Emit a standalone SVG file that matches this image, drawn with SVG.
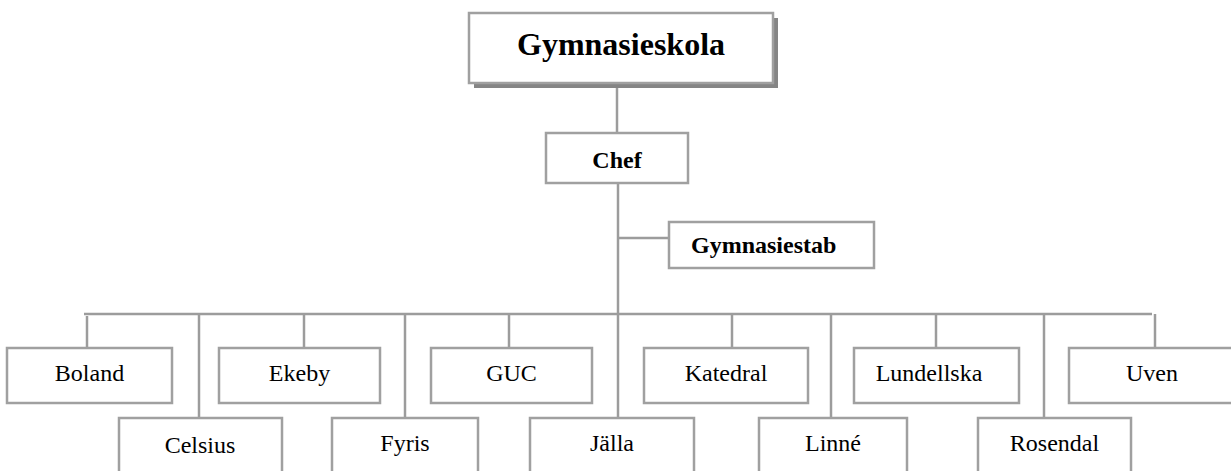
<svg xmlns="http://www.w3.org/2000/svg" width="1231" height="471" viewBox="0 0 1231 471">
<style>
.box{fill:#fff;stroke:#a0a0a0;stroke-width:2.5}
.ln{stroke:#9c9c9c;stroke-width:2.5;fill:none}
.t{font-family:"Liberation Serif","Times New Roman",serif;font-size:24px;fill:#000;text-anchor:middle}
.b{font-weight:bold}
</style>
<rect width="1231" height="471" fill="#fff"/>
<g id="connectors">
<line class="ln" x1="617" y1="88" x2="617" y2="133"/>
<line class="ln" x1="618" y1="183" x2="618" y2="418"/>
<line class="ln" x1="618" y1="238" x2="669" y2="238"/>
<line class="ln" x1="84" y1="314" x2="1152" y2="314"/>
<line class="ln" x1="87" y1="316" x2="87" y2="348"/>
<line class="ln" x1="199" y1="314" x2="199" y2="418"/>
<line class="ln" x1="304" y1="314" x2="304" y2="348"/>
<line class="ln" x1="405" y1="314" x2="405" y2="418"/>
<line class="ln" x1="509" y1="314" x2="509" y2="348"/>
<line class="ln" x1="732" y1="314" x2="732" y2="348"/>
<line class="ln" x1="831" y1="314" x2="831" y2="418"/>
<line class="ln" x1="936" y1="314" x2="936" y2="348"/>
<line class="ln" x1="1044" y1="314" x2="1044" y2="418"/>
<line class="ln" x1="1155" y1="314" x2="1155" y2="348"/>
</g>
<g id="gymnasieskola">
<rect x="474" y="18" width="304" height="70" fill="#858585"/>
<rect class="box" x="469" y="13" width="304" height="70"/>
<text class="t b" x="621" y="55" style="font-size:32px">Gymnasieskola</text>
</g>
<g id="chef">
<rect class="box" x="546" y="133" width="142" height="50"/>
<text class="t b" x="617" y="168">Chef</text>
</g>
<g id="gymnasiestab">
<rect class="box" x="669" y="222" width="205" height="46"/>
<text class="t b" x="691" y="253" style="text-anchor:start">Gymnasiestab</text>
</g>
<g id="boland"><rect class="box" x="7" y="348" width="165" height="55"/><text class="t" x="89.5" y="381">Boland</text></g>
<g id="ekeby"><rect class="box" x="219" y="348" width="161" height="55"/><text class="t" x="299.5" y="381">Ekeby</text></g>
<g id="guc"><rect class="box" x="431" y="348" width="161" height="55"/><text class="t" x="511.5" y="381">GUC</text></g>
<g id="katedral"><rect class="box" x="644" y="348" width="164" height="55"/><text class="t" x="726" y="381">Katedral</text></g>
<g id="lundellska"><rect class="box" x="854" y="348" width="165" height="55"/><text class="t" x="929" y="381">Lundellska</text></g>
<g id="uven"><rect class="box" x="1069" y="348" width="170" height="55"/><text class="t" x="1152" y="381">Uven</text></g>
<g id="celsius"><rect class="box" x="119" y="418" width="163" height="70"/><text class="t" x="200" y="453">Celsius</text></g>
<g id="fyris"><rect class="box" x="332" y="418" width="146" height="70"/><text class="t" x="405" y="451">Fyris</text></g>
<g id="jalla"><rect class="box" x="530" y="418" width="164" height="70"/><text class="t" x="612" y="451">Jälla</text></g>
<g id="linne"><rect class="box" x="759" y="418" width="148" height="70"/><text class="t" x="833" y="451">Linné</text></g>
<g id="rosendal"><rect class="box" x="978" y="418" width="153" height="70"/><text class="t" x="1054.5" y="451">Rosendal</text></g>
</svg>
